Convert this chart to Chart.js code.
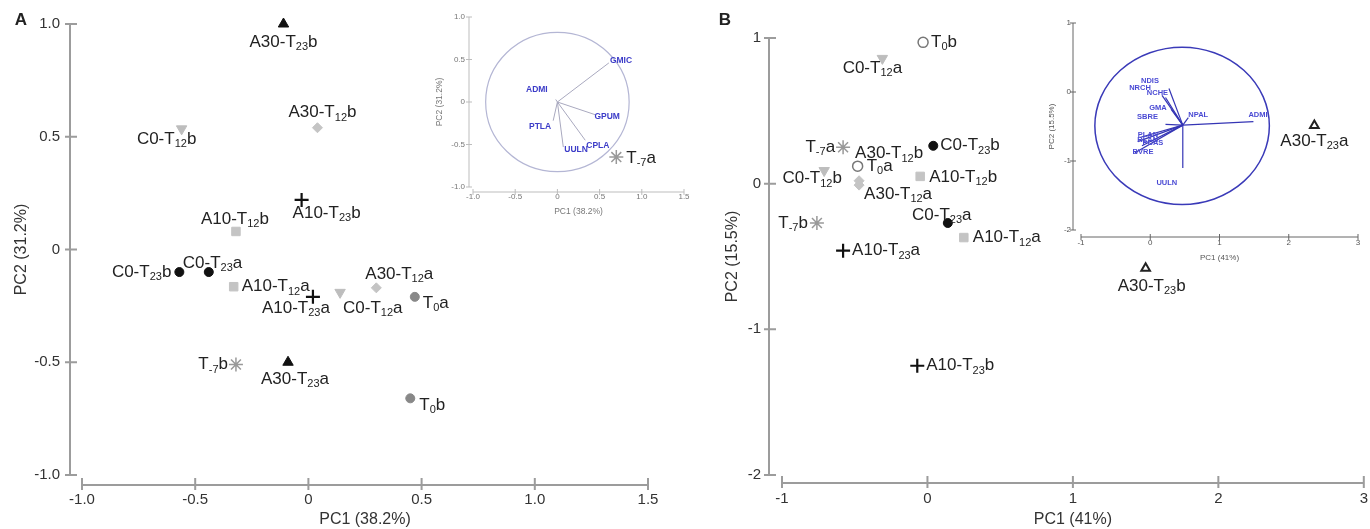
<!DOCTYPE html>
<html>
<head>
<meta charset="utf-8">
<script src="https://cdn.jsdelivr.net/npm/chart.js@4"></script>
<style>
html, body { margin: 0; padding: 0; background: #fff; }
#wrap { position: relative; width: 1370px; height: 529px; overflow: hidden; }
canvas { position: absolute; }
</style>
</head>
<body>
<div id="wrap">
  <canvas id="mainA" width="690" height="529" style="left:0;top:0"></canvas>
  <canvas id="mainB" width="683" height="529" style="left:690px;top:0"></canvas>
  <canvas id="insetA" width="280" height="225" style="left:420px;top:0"></canvas>
  <canvas id="insetB" width="340" height="270" style="left:1030px;top:0"></canvas>
</div>
<script>
// ---- panel A scores
const namesA = ['A30-T23b','A30-T12b','C0-T12b','A10-T23b','A10-T12b','C0-T23b','C0-T23a','A10-T12a',
                'A10-T23a','C0-T12a','A30-T12a','T0a','T-7b','A30-T23a','T0b','T-7a'];
const pc1A = [-0.11, 0.04, -0.56, -0.03, -0.32, -0.57, -0.44, -0.33, 0.02, 0.14, 0.30, 0.47, -0.32, -0.09, 0.45, 1.36];
const pc2A = [1.00, 0.54, 0.535, 0.22, 0.08, -0.10, -0.10, -0.165, -0.21, -0.19, -0.17, -0.21, -0.51, -0.50, -0.66, 0.41];

// ---- panel B scores
const namesB = ['T0b','C0-T12a','T-7a','A30-T12b','C0-T23b','T0a','C0-T12b','A10-T12b','A30-T12a',
                'C0-T23a','A10-T12a','T-7b','A10-T23a','A10-T23b','A30-T23a','A30-T23b'];
const pc1B = [-0.03, -0.31, -0.58, -0.47, 0.04, -0.48, -0.71, -0.05, -0.47, 0.14, 0.25, -0.76, -0.58, -0.07, 2.66, 1.50];
const pc2B = [0.97, 0.86, 0.25, 0.02, 0.26, 0.12, 0.09, 0.05, -0.01, -0.27, -0.37, -0.27, -0.46, -1.25, 0.40, -0.58];

// ---- loadings (insets)
const varsA = ['GMIC','GPUM','CPLA','UULN','PTLA','ADMI'];
const loadA1 = [0.61, 0.45, 0.33, 0.07, -0.05, -0.02];
const loadA2 = [0.46, -0.15, -0.45, -0.53, -0.22, 0.03];
const originA = [0, 0];
const ringA = [0, 0, 0.85, 0.82];   // cx, cy, rx, ry

const varsB = ['ADMI','NPAL','UULN','NDIS','NRCH','NCHE','GMA','SBRE','PLAN','RLAN','PCAS','BVRE'];
const loadB1 = [1.49, 0.55, 0.47, 0.27, 0.17, 0.22, 0.30, 0.22, -0.15, -0.18, -0.12, -0.22];
const loadB2 = [-0.43, -0.37, -1.10, 0.05, -0.05, -0.08, -0.25, -0.47, -0.66, -0.72, -0.78, -0.88];
const originB = [0.47, -0.48];
const ringB = [0.46, -0.49, 1.26, 1.14];

// ---- ticks
const ticksAx = [-1.0, -0.5, 0, 0.5, 1.0, 1.5];
const ticksAy = [-1.0, -0.5, 0, 0.5, 1.0];
const ticksBx = [-1, 0, 1, 2, 3];
const ticksBy = [-2, -1, 0, 1];

// label placement: [dx, dy, align]
const placeA = {
  'A30-T23b': [0, 18, 'c'], 'A30-T12b': [5, -15, 'c'], 'C0-T12b': [-15, 10, 'c'], 'A10-T23b': [25, 13, 'c'],
  'A10-T12b': [-1, -12, 'c'], 'C0-T23b': [-8, 0, 'r'], 'C0-T23a': [-26, -9, 'l'], 'A10-T12a': [8, 0, 'l'],
  'A10-T23a': [-17, 11, 'c'], 'C0-T12a': [3, 16, 'l'], 'A30-T12a': [23, -14, 'c'], 'T0a': [8, 6, 'l'],
  'T-7b': [-8, 0, 'r'], 'A30-T23a': [7, 17, 'c'], 'T0b': [9, 7, 'l'], 'T-7a': [10, 1, 'l']
};
const placeB = {
  'T0b': [8, 0, 'l'], 'C0-T12a': [-10, 10, 'c'], 'T-7a': [-8, 0, 'r'], 'A30-T12b': [30, -27, 'c'],
  'C0-T23b': [7, 0, 'l'], 'T0a': [9, 0, 'l'], 'C0-T12b': [-12, 8, 'c'], 'A10-T12b': [9, 1, 'l'],
  'A30-T12a': [5, 9, 'l'], 'C0-T23a': [-6, -8, 'c'], 'A10-T12a': [9, 0, 'l'], 'T-7b': [-9, 0, 'r'],
  'A10-T23a': [9, 0, 'l'], 'A10-T23b': [9, 0, 'l'], 'A30-T23a': [0, 16, 'c'], 'A30-T23b': [6, 18, 'c']
};
const placeVA = {
  'GMIC': [1, -2, 'l'], 'GPUM': [-1, 2, 'l'], 'CPLA': [1, 5, 'l'], 'UULN': [1, 3, 'l'],
  'PTLA': [-2, 6, 'r'], 'ADMI': [-8, -10, 'r']
};
const placeVB = {
  'ADMI': [-5, -7, 'l'], 'NPAL': [0, -3, 'l'], 'UULN': [-16, 15, 'c'], 'NDIS': [-19, -8, 'c'],
  'NRCH': [-22, -8, 'c'], 'NCHE': [-8, -5, 'c'], 'GMA': [-13, -1, 'c'], 'SBRE': [-18, -7, 'c'],
  'PLAN': [8, -3, 'c'], 'RLAN': [10, -2, 'c'], 'PCAS': [11, -3, 'c'], 'BVRE': [8, -1, 'c']
};

const FAM = '"Liberation Sans", Arial, Helvetica, sans-serif';

const styleA = {
  'A30-T23': { shape: 'triangle', r: 6, fill: '#111', line: '#111', w: 1 },
  'A30-T12': { shape: 'rectRot', r: 5, fill: '#c4c4c4', line: '#c4c4c4', w: 1 },
  'C0-T12':  { shape: 'triangle', rot: 180, r: 6, fill: '#bdbdbd', line: '#bdbdbd', w: 1 },
  'A10-T23': { shape: 'cross', r: 7, fill: '#111', line: '#111', w: 2.2 },
  'A10-T12': { shape: 'rect', r: 6, fill: '#c4c4c4', line: '#c4c4c4', w: 1 },
  'C0-T23':  { shape: 'circle', r: 4.5, fill: '#111', line: '#111', w: 1 },
  'T0':      { shape: 'circle', r: 4.5, fill: '#888', line: '#888', w: 1 },
  'T-7':     { shape: 'star', r: 7, fill: '#999', line: '#999', w: 1.5 }
};
const styleB = Object.assign({}, styleA, {
  'A30-T23': { shape: 'triangle', r: 5, fill: '#fff', line: '#222', w: 2 },
  'T0':      { shape: 'circle', r: 5, fill: '#fff', line: '#777', w: 1.5 }
});

function drawLabel(ctx, text, x, y, align, o) {
  const m = text.match(/^(.*T)(-?\d+)(.*)$/);
  const parts = m ? [[m[1], 0], [m[2], 1], [m[3], 0]] : [[text, 0]];
  const fMain = `${o.weight || 'normal'} ${o.size}px ${FAM}`;
  const fSub = `${o.weight || 'normal'} ${o.sub}px ${FAM}`;
  let w = 0;
  parts.forEach(p => { ctx.font = p[1] ? fSub : fMain; p.push(ctx.measureText(p[0]).width); w += p[2]; });
  let cx = align === 'l' ? x : align === 'r' ? x - w : x - w / 2;
  parts.forEach(p => {
    ctx.font = p[1] ? fSub : fMain;
    ctx.fillText(p[0], cx, y + (p[1] ? o.subDy : 0));
    cx += p[2];
  });
}

const offAxes = {
  id: 'offAxes',
  beforeDatasetsDraw(chart, args, o) {
    const { ctx, chartArea: a, scales: { x, y } } = chart;
    const ax = a.left - o.dx, ay = a.bottom + o.dy;
    ctx.save();
    ctx.strokeStyle = o.color; ctx.lineWidth = o.width;
    ctx.beginPath();
    ctx.moveTo(ax, y.getPixelForValue(y.max)); ctx.lineTo(ax, y.getPixelForValue(y.min));
    y.ticks.forEach(t => { const p = y.getPixelForValue(t.value); ctx.moveTo(ax - o.tickOut, p); ctx.lineTo(ax + o.tickIn, p); });
    ctx.moveTo(x.getPixelForValue(x.min), ay); ctx.lineTo(x.getPixelForValue(x.max), ay);
    x.ticks.forEach(t => { const p = x.getPixelForValue(t.value); ctx.moveTo(p, ay + o.tickOut); ctx.lineTo(p, ay - o.tickIn); });
    ctx.stroke();
    ctx.restore();
  }
};

const ring = {
  id: 'ring',
  beforeDatasetsDraw(chart, args, o) {
    const { ctx, scales: { x, y } } = chart;
    const cx = x.getPixelForValue(o.c[0]), cy = y.getPixelForValue(o.c[1]);
    const rx = Math.abs(x.getPixelForValue(o.c[0] + o.c[2]) - cx);
    const ry = Math.abs(y.getPixelForValue(o.c[1] + o.c[3]) - cy);
    ctx.save();
    ctx.strokeStyle = o.color; ctx.lineWidth = o.width;
    ctx.beginPath(); ctx.ellipse(cx, cy, rx, ry, 0, 0, Math.PI * 2); ctx.stroke();
    ctx.restore();
  }
};

const ptLabels = {
  id: 'ptLabels',
  afterDatasetsDraw(chart, args, o) {
    const ctx = chart.ctx;
    ctx.save();
    ctx.fillStyle = o.color; ctx.textBaseline = 'middle'; ctx.textAlign = 'left';
    chart.data.datasets.forEach((ds, di) => {
      if (!ds.names) return;
      const pts = chart.getDatasetMeta(di).data;
      ds.names.forEach((t, i) => {
        if (!t) return;
        const p = ds.places[i] || [6, 0, 'l'];
        drawLabel(ctx, t, pts[i].x + p[0], pts[i].y + p[1], p[2], o);
      });
    });
    ctx.restore();
  }
};

const letter = {
  id: 'letter',
  afterDraw(chart, args, o) {
    const ctx = chart.ctx;
    ctx.save();
    ctx.font = `bold 17px ${FAM}`; ctx.fillStyle = '#222';
    ctx.textAlign = 'center'; ctx.textBaseline = 'middle';
    ctx.fillText(o.text, o.x, o.y);
    ctx.restore();
  }
};

function scoreSets(names, xs, ys, styles, place) {
  const groups = {};
  names.forEach((n, i) => { const g = n.slice(0, -1); (groups[g] = groups[g] || []).push(i); });
  return Object.keys(groups).map(g => {
    const s = styles[g], idx = groups[g];
    return {
      data: idx.map(i => ({ x: xs[i], y: ys[i] })),
      names: idx.map(i => names[i]),
      places: idx.map(i => place[names[i]]),
      pointStyle: s.shape, pointRadius: s.r, pointRotation: s.rot || 0,
      pointBackgroundColor: s.fill, pointBorderColor: s.line, pointBorderWidth: s.w,
      showLine: false, clip: false
    };
  });
}

function vectorSets(vars, l1, l2, origin, place, color, w) {
  return vars.map((v, i) => ({
    data: [{ x: origin[0], y: origin[1] }, { x: l1[i], y: l2[i] }],
    names: [null, v], places: [null, place[v]],
    showLine: true, borderColor: color, borderWidth: w, pointRadius: 0, clip: false
  }));
}

function axis(min, max, ticks, fmt, s) {
  return {
    type: 'linear', min: min, max: max,
    afterBuildTicks: sc => { sc.ticks = ticks.map(v => ({ value: v })); },
    afterFit: sc => {
      if (sc.isHorizontal()) sc.height = s.size; else sc.width = s.size;
      sc.paddingLeft = 0; sc.paddingRight = 0; sc.paddingTop = 0; sc.paddingBottom = 0;
    },
    grid: { display: false, drawTicks: false },
    border: { display: false },
    ticks: { autoSkip: false, maxRotation: 0, padding: s.pad, color: s.color, font: { size: s.font, family: FAM }, callback: fmt },
    title: { display: true, text: s.title, color: s.color, font: { size: s.tfont, family: FAM },
             padding: { top: s.tpad, bottom: s.tpad } }
  };
}

const fmtA = v => v === 0 ? '0' : v.toFixed(1);
const fmtB = v => String(v);

function makeChart(id, datasets, o) {
  return new Chart(document.getElementById(id), {
    type: 'scatter',
    data: { datasets: datasets },
    options: {
      responsive: false, animation: false, events: [],
      layout: { padding: o.pad },
      plugins: {
        legend: { display: false }, tooltip: { enabled: false },
        offAxes: o.axes, ptLabels: o.labels, ring: o.ring || false, letter: o.letter || false
      },
      scales: { x: o.x, y: o.y }
    },
    plugins: [offAxes, ring, ptLabels, letter]
  });
}

// ---- Panel A
makeChart('mainA', scoreSets(namesA, pc1A, pc2A, styleA, placeA), {
  pad: { left: 0, top: 24, right: 42, bottom: 0 },
  axes: { dx: 12, dy: 10, color: '#9c9c9c', width: 2, tickIn: 7, tickOut: 5 },
  labels: { color: '#222', size: 17, sub: 11, subDy: 5 },
  letter: { text: 'A', x: 21, y: 20 },
  x: axis(-1, 1.5, ticksAx, fmtA, { size: 54, pad: 16, color: '#333', font: 15, title: 'PC1 (38.2%)', tfont: 16, tpad: 0 }),
  y: axis(-1, 1, ticksAy, fmtA, { size: 82, pad: 22, color: '#333', font: 15, title: 'PC2 (31.2%)', tfont: 16, tpad: 12 })
});

// ---- Panel B
makeChart('mainB', scoreSets(namesB, pc1B, pc2B, styleB, placeB), {
  pad: { left: 0, top: 38, right: 9, bottom: 0 },
  axes: { dx: 13, dy: 8, color: '#9c9c9c', width: 2, tickIn: 7, tickOut: 5 },
  labels: { color: '#222', size: 17, sub: 11, subDy: 5 },
  letter: { text: 'B', x: 35, y: 20 },
  x: axis(-1, 3, ticksBx, fmtB, { size: 54, pad: 15, color: '#333', font: 15, title: 'PC1 (41%)', tfont: 16, tpad: 0 }),
  y: axis(-2, 1, ticksBy, fmtB, { size: 92, pad: 21, color: '#333', font: 15, title: 'PC2 (15.5%)', tfont: 16, tpad: 33 })
});

// ---- Inset A (loadings)
makeChart('insetA', vectorSets(varsA, loadA1, loadA2, originA, placeVA, '#a9a9bf', 1), {
  pad: { left: 0, top: 17, right: 16, bottom: 0 },
  axes: { dx: 4, dy: 5, color: '#bdbdbd', width: 1, tickIn: 3, tickOut: 3 },
  labels: { color: '#3c3cc8', size: 8.5, sub: 6, subDy: 2, weight: 'bold' },
  ring: { c: ringA, color: '#b4b6d4', width: 1.2 },
  x: axis(-1, 1.5, ticksAx, fmtA, { size: 38, pad: 5, color: '#777', font: 8, title: 'PC1 (38.2%)', tfont: 8.5, tpad: 8 }),
  y: axis(-1, 1, ticksAy, fmtA, { size: 53, pad: 8, color: '#777', font: 8, title: 'PC2 (31.2%)', tfont: 8.5, tpad: 15 })
});

// ---- Inset B (loadings)
makeChart('insetB', vectorSets(varsB, loadB1, loadB2, originB, placeVB, '#3535b5', 1.2), {
  pad: { left: 0, top: 23, right: 12, bottom: 0 },
  axes: { dx: 8, dy: 7, color: '#666', width: 1, tickIn: 3, tickOut: 3 },
  labels: { color: '#4a4ad4', size: 7.5, sub: 5, subDy: 2, weight: 'bold' },
  ring: { c: ringB, color: '#3a3ab8', width: 1.5 },
  x: axis(-1, 3, ticksBx, fmtB, { size: 40, pad: 8, color: '#555', font: 8, title: 'PC1 (41%)', tfont: 8, tpad: 7 }),
  y: axis(-2, 1, ticksBy, fmtB, { size: 51, pad: 10, color: '#555', font: 8, title: 'PC2 (15.5%)', tfont: 8, tpad: 17 })
});
</script>
</body>
</html>
